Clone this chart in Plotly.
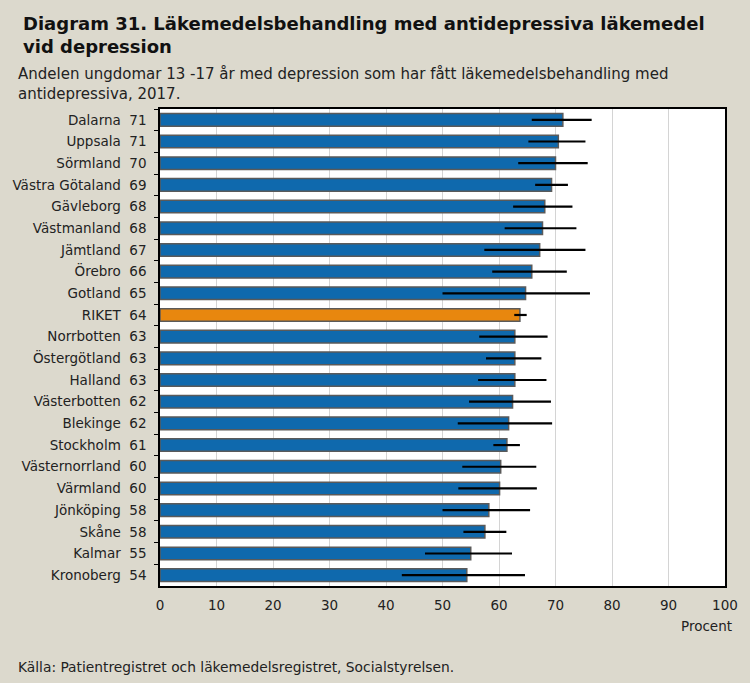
import plotly.graph_objects as go

regions = ["Dalarna", "Uppsala", "Sörmland", "Västra Götaland", "Gävleborg", "Västmanland",
           "Jämtland", "Örebro", "Gotland", "RIKET", "Norrbotten", "Östergötland", "Halland",
           "Västerbotten", "Blekinge", "Stockholm", "Västernorrland", "Värmland", "Jönköping",
           "Skåne", "Kalmar", "Kronoberg"]
shown = [71, 71, 70, 69, 68, 68, 67, 66, 65, 64, 63, 63, 63, 62, 62, 61, 60, 60, 58, 58, 55, 54]
values = [71.3, 70.5, 70.0, 69.3, 68.1, 67.7, 67.2, 65.8, 64.7, 63.7, 62.8, 62.8, 62.8,
          62.4, 61.7, 61.4, 60.3, 60.1, 58.2, 57.5, 55.0, 54.3]
lower = [65.8, 65.2, 63.4, 66.4, 62.5, 61.0, 57.4, 58.8, 50.0, 62.7, 56.5, 57.7, 56.3,
         54.7, 52.7, 59.0, 53.5, 52.8, 50.0, 53.7, 46.9, 42.8]
upper = [76.4, 75.3, 75.7, 72.2, 73.0, 73.7, 75.3, 72.0, 76.1, 64.9, 68.6, 67.5, 68.4,
         69.2, 69.4, 63.7, 66.6, 66.7, 65.5, 61.3, 62.3, 64.6]
x_ticks = [0, 10, 20, 30, 40, 50, 60, 70, 80, 90, 100]

labels = [f"{r}  {s}" for r, s in zip(regions, shown)]
colors = ["#e8870e" if r == "RIKET" else "#0f69ad" for r in regions]

BG = "#dcd9cd"
FONT = "DejaVu Sans"

fig = go.Figure(go.Bar(
    orientation="h",
    y=labels,
    x=values,
    marker=dict(color=colors, line=dict(color="#5a5a5a", width=1.5)),
    error_x=dict(type="data", symmetric=False,
                 array=[u - v for u, v in zip(upper, values)],
                 arrayminus=[v - l for v, l in zip(values, lower)],
                 color="black", thickness=2.2, width=0),
    hoverinfo="skip",
))

fig.update_layout(
    width=750, height=683,
    paper_bgcolor=BG, plot_bgcolor="white",
    margin=dict(l=159, r=24, t=109, b=97),
    bargap=0.42,
    showlegend=False,
    font=dict(family=FONT, color="#222222", size=13.5),
    xaxis=dict(range=[0, 100], tickvals=x_ticks, showgrid=True, gridcolor="#d4d4d4",
               gridwidth=1, zeroline=False, showline=True, linecolor="black", linewidth=1.5,
               mirror=True, ticks="", tickfont=dict(size=13.5, family=FONT), ticklabelstandoff=6),
    yaxis=dict(autorange="reversed", showline=True, linecolor="black", linewidth=1.5,
               mirror=True, ticks="outside", ticklen=4, tickcolor="black", tickson="boundaries",
               showgrid=False, tickfont=dict(size=13.5, family=FONT), ticklabelstandoff=9),
)

fig.add_annotation(text="<b>Diagram 31. Läkemedelsbehandling med antidepressiva läkemedel<br>vid depression</b>",
                   xref="paper", yref="paper", x=-159/567 + 20/567, y=1, yshift=98,
                   xanchor="left", yanchor="top", align="left", showarrow=False,
                   font=dict(size=18, family=FONT, color="#111111"))
fig.add_annotation(text="Andelen ungdomar 13 -17 år med depression som har fått läkemedelsbehandling med<br>antidepressiva, 2017.",
                   xref="paper", yref="paper", x=-159/567 + 14/567, y=1, yshift=46,
                   xanchor="left", yanchor="top", align="left", showarrow=False,
                   font=dict(size=15, family=FONT, color="#222222"))
fig.add_annotation(text="Procent", xref="paper", yref="paper", x=1 + 9/567, y=0, yshift=-30,
                   xanchor="right", yanchor="top", showarrow=False,
                   font=dict(size=13.5, family=FONT))
fig.add_annotation(text="Källa: Patientregistret och läkemedelsregistret, Socialstyrelsen.",
                   xref="paper", yref="paper", x=-159/567 + 14/567, y=0, yshift=-71,
                   xanchor="left", yanchor="top", showarrow=False,
                   font=dict(size=13.8, family=FONT))

fig.write_html("out.html")
